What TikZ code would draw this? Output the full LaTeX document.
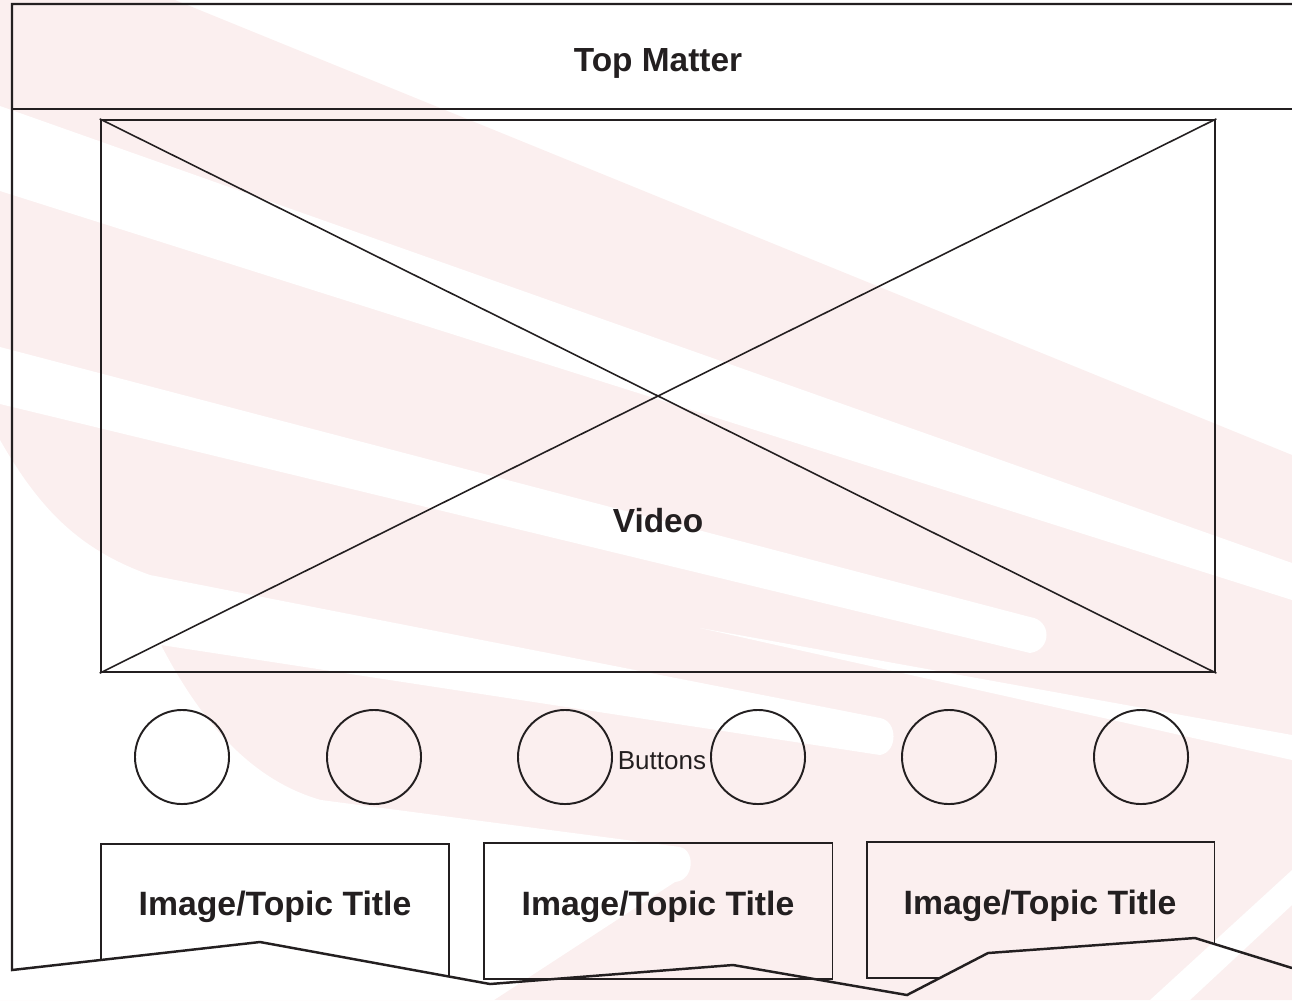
\documentclass[tikz,border=0pt]{standalone}
\usepackage{fontspec}
\setmainfont{Liberation Sans}
\usetikzlibrary{positioning}

\definecolor{wmpink}{RGB}{251,239,239}
\definecolor{inkgrey}{RGB}{35,31,32}

\begin{document}
\begin{tikzpicture} [
    x=0.01cm, y=-0.01cm,
    frame/.style   = { draw=inkgrey, line width=0.7pt },
    vidbox/.style  = { rectangle, draw=inkgrey, line width=0.55pt,
                       minimum width=11.14cm, minimum height=5.52cm, inner sep=0 },
    btn/.style     = { circle, draw=inkgrey, line width=0.55pt,
                       minimum size=0.94cm, inner sep=0 },
    imgbox/.style  = { rectangle, draw=inkgrey, line width=0.35pt,
                       minimum width=3.48cm, minimum height=1.36cm, inner sep=0 },
    bigtxt/.style  = { font=\fontsize{9.5}{11}\selectfont\bfseries, text=inkgrey },
    imgtxt/.style  = { font=\fontsize{9.6}{11}\selectfont\bfseries, text=inkgrey },
    smalltxt/.style= { font=\fontsize{7.4}{9}\selectfont, text=inkgrey, inner sep=0 },
  ]
\useasboundingbox (0,0) rectangle (1292,1000);

% watermark: pink ground with white gaps
\fill[wmpink] (0,0) -- (175,0) -- (1292,455) -- (1292,1000) -- (0,1000) -- cycle;
\fill[white] (0,106) -- (1292,563) -- (1292,600) -- (0,191) -- cycle;
\fill[white] (0,347) -- (1030,617) .. controls (1052,620) and (1052,650) .. (1030,653) -- (0,404) -- cycle;
\fill[white] (0,440) .. controls (40,510) and (80,550) .. (150,575) -- (880,718)
  .. controls (898,721) and (898,752) .. (880,755) -- (161,645)
  .. controls (200,720) and (250,780) .. (321,800) -- (680,847)
  .. controls (695,850) and (695,880) .. (675,882) -- (494,1000) -- (0,1000) -- cycle;
\fill[white] (700,628) -- (1292,735) -- (1292,760) -- cycle;
\fill[white] (1150,1000) -- (1292,870) -- (1292,905) -- (1190,1000) -- cycle;

% top matter
\coordinate (tl) at (12,4);
\coordinate (tr) at (1292,4);
\coordinate (sl) at (12,109);
\coordinate (sr) at (1292,109);
\node (top) [bigtxt] at (658,63) {Top Matter};

% video
\node (video) [vidbox] at (658,396) {};
\node (vlabel) [bigtxt] at (658,521) {Video};
\draw[line width=0.45pt, inkgrey] (video.north west) -- (video.south east);
\draw[line width=0.45pt, inkgrey] (video.south west) -- (video.north east);

% buttons
\foreach \i/\x in {1/182,2/374,3/565,4/758,5/949,6/1141}
  \node (btn\i) [btn] at (\x,757) {};
\node (blabel) [smalltxt] at (662,761) {Buttons};

% image boxes, torn off by the zigzag
\coordinate (z0) at (12,970);
\coordinate (z1) at (260,942);
\coordinate (z2) at (490,984);
\coordinate (z3) at (733,965);
\coordinate (z4) at (907,995);
\coordinate (z5) at (988,953);
\coordinate (z6) at (1195,938);
\coordinate (z7) at (1292,968);

\begin{scope}
\clip (0,0) -- (1292,0) -- (z7) -- (z6) -- (z5) -- (z4) -- (z3) -- (z2) -- (z1) -- (z0) -- (0,970) -- cycle;
\node (img1) [imgbox] at (275,912) {};
\node (img3) [imgbox, minimum width=3.47cm] at (1040.5,910) {};
\end{scope}
\node (img2) [imgbox] at (658,911) {};

\node (title1) [imgtxt] at (275,907) {Image/Topic Title};
\node (title2) [imgtxt] at (658,907) {Image/Topic Title};
\node (title3) [imgtxt] at (1040,906) {Image/Topic Title};

% frame
\draw[frame] (tr) -- (tl) -- (z0) -- (z1) -- (z2) -- (z3) -- (z4) -- (z5) -- (z6) -- (z7);
\draw[frame] (sl) -- (sr);

\end{tikzpicture}
\end{document}
